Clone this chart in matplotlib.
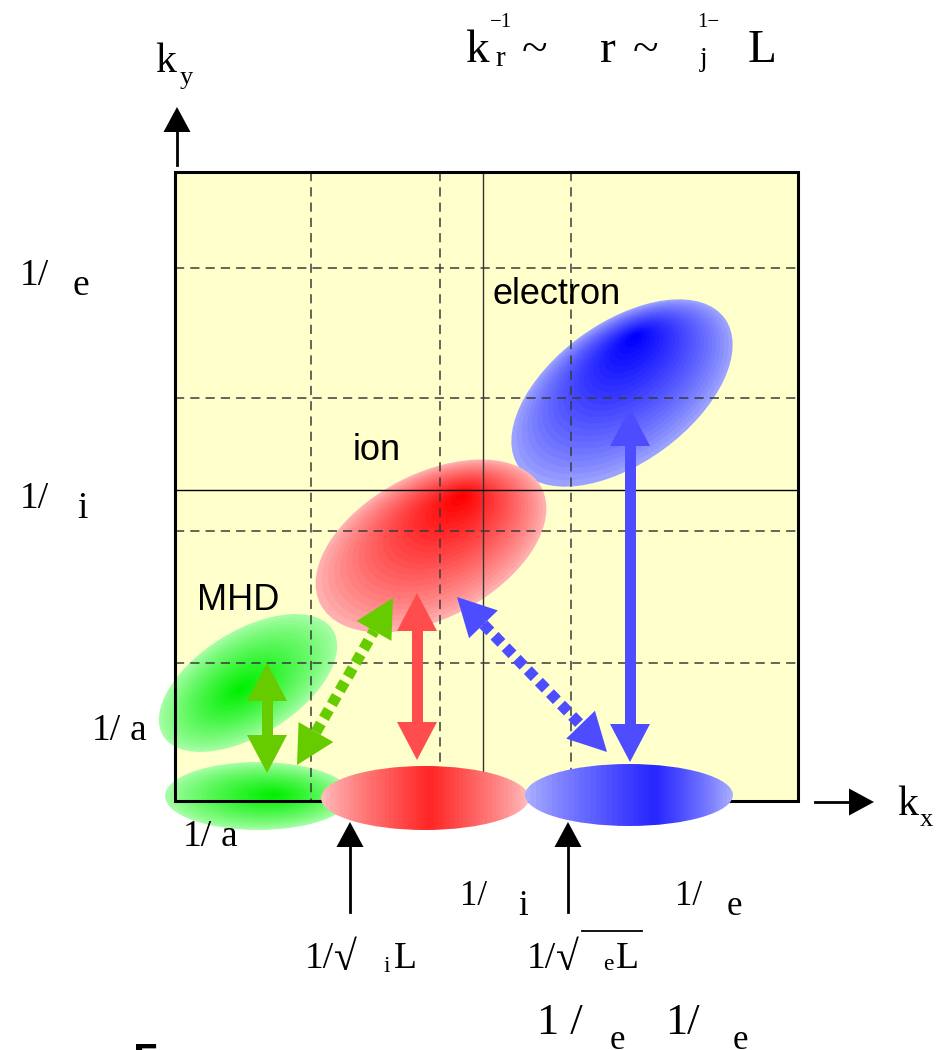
import numpy as np
import matplotlib
matplotlib.use("Agg")
import matplotlib.pyplot as plt
from matplotlib.patches import Ellipse, Rectangle, Polygon

# ---- diagram geometry (figure pixel units, y grows downward) ----
box = (175, 172, 798, 801)                 # left, top, right, bottom
grid_dashed_x = [311, 440, 571]
grid_solid_x = [483]
grid_dashed_y = [268, 398, 531, 663]
grid_solid_y = [490]

# blobs: name, centre, semi-axes, tilt (deg, visual), highlight, full colour, edge colour, mode, zorder
blob_names = ["electron", "ion", "MHD", "mhd_low", "ion_low", "el_low"]
blob_cx = [622, 431, 248, 258, 425, 629]
blob_cy = [393, 546, 683, 796, 798, 795]
blob_a = [127, 125, 100, 93, 104, 104]
blob_b = [70, 72, 52, 34, 32, 31]
blob_tilt = [36, 28, 32, 0, 0, 0]
blob_fx = [635, 462, 240, 275, 430, 655]
blob_fy = [335, 495, 690, 795, 798, 795]
blob_full = [(0, 0, 255), (255, 0, 0), (0, 240, 0), (0, 240, 0), (255, 40, 40), (40, 40, 255)]
blob_light = [(168, 175, 255), (255, 190, 190), (178, 255, 178), (178, 255, 178), (255, 200, 200), (180, 185, 255)]
blob_mode = ["radial", "radial", "radial", "radial", "xonly", "xonly"]
blob_z = [1, 1, 1, 1, 2.7, 2.7]

# coloured double arrows: start tip, end tip, colour, dotted
arr_start = [(267, 663), (297, 765), (417, 593), (457, 597), (630, 408)]
arr_end = [(267, 773), (393, 598), (417, 760), (607, 752), (630, 762)]
arr_color = ["#66CC00", "#66CC00", "#FF4D4D", "#4D4DFF", "#4D4DFF"]
arr_dotted = [False, True, False, True, False]

# black single arrows: tail, tip
blk_tail = [(177, 165), (815, 802), (350, 912), (568, 912)]
blk_tip = [(177, 107), (874, 802), (350, 822), (568, 822)]

SERIF = ["Liberation Serif", "DejaVu Serif"]
SANS = ["Liberation Sans", "DejaVu Sans"]


def blob(ax, cx, cy, a, b, tilt, fx, fy, full, light, mode, z):
    patch = Ellipse((cx, cy), 2 * a, 2 * b, angle=-tilt, fc="none", ec="none")
    ax.add_patch(patch)
    x0, x1, y0, y1 = cx - a - 2, cx + a + 2, cy - a - 2, cy + a + 2
    X, Y = np.meshgrid(np.linspace(x0, x1, 400), np.linspace(y0, y1, 400))
    th = np.radians(-tilt)
    c, s = np.cos(th), np.sin(th)
    dx, dy = X - cx, Y - cy
    u = (dx * c + dy * s) / a
    v = (-dx * s + dy * c) / b
    fu = ((fx - cx) * c + (fy - cy) * s) / a
    fv = (-(fx - cx) * s + (fy - cy) * c) / b
    if mode == "radial":
        du, dv = u - fu, v - fv
        dd = du ** 2 + dv ** 2 + 1e-12
        fd = fu * du + fv * dv
        ff = fu ** 2 + fv ** 2
        lam = (-fd + np.sqrt(np.maximum(fd ** 2 - dd * (ff - 1), 0))) / dd
        t = 1.0 / lam
    else:
        t = np.where(u > fu, (u - fu) / (1 - fu), (fu - u) / (1 + fu))
    t = np.clip(t, 0, 1)
    t = np.floor(t * 24) / 24
    m = (1 - t) ** 0.8
    full = np.array(full) / 255.0
    light = np.array(light) / 255.0
    rgb = light + (full - light) * m[..., None]
    im = ax.imshow(rgb, extent=(x0, x1, y1, y0), origin="upper",
                   interpolation="bilinear", aspect="auto", zorder=z)
    im.set_clip_path(patch)


def head(p_tip, u, n, hw, hl):
    base = p_tip - u * hl
    return [p_tip, base + n * hw / 2, base - n * hw / 2]


def fat_arrow(ax, p0, p1, color, dotted, sw=11, hw=40, hl=38):
    p0, p1 = np.array(p0, float), np.array(p1, float)
    u = (p1 - p0) / np.linalg.norm(p1 - p0)
    n = np.array([-u[1], u[0]])
    b0, b1 = p0 + u * hl, p1 - u * hl
    ax.add_patch(Polygon(head(p0, -u, n, hw, hl), closed=True, fc=color, ec="none", zorder=4))
    ax.add_patch(Polygon(head(p1, u, n, hw, hl), closed=True, fc=color, ec="none", zorder=4))
    if dotted:
        ax.plot([b0[0], b1[0]], [b0[1], b1[1]], color=color, lw=sw * 0.72,
                linestyle=(0, (0.9, 0.55)), solid_capstyle="butt",
                dash_capstyle="butt", zorder=4)
    else:
        ax.add_patch(Polygon([b0 + n * sw / 2, b1 + n * sw / 2, b1 - n * sw / 2, b0 - n * sw / 2],
                             closed=True, fc=color, ec="none", zorder=4))


def thin_arrow(ax, tail, tip, hw=27, hl=25):
    tail, tip = np.array(tail, float), np.array(tip, float)
    u = (tip - tail) / np.linalg.norm(tip - tail)
    n = np.array([-u[1], u[0]])
    b = tip - u * hl
    ax.plot([tail[0], b[0]], [tail[1], b[1]], color="black", lw=2, zorder=4,
            clip_on=False)
    ax.add_patch(Polygon(head(tip, u, n, hw, hl), closed=True, fc="black", ec="none", zorder=4))


def txt(ax, x, y, s, size, family=SERIF, **kw):
    ax.text(x, y, s, fontsize=size, family=family, ha="left", va="baseline", **kw)


fig = plt.figure(figsize=(9.42, 10.5), dpi=100)
ax = fig.add_axes([0, 0, 1, 1])
ax.axis("off")

L, T, R, B = box
ax.add_patch(Rectangle((L, T), R - L, B - T, fc="#FFFFCC", ec="none", zorder=0))

for i in range(len(blob_names)):
    blob(ax, blob_cx[i], blob_cy[i], blob_a[i], blob_b[i], blob_tilt[i],
         blob_fx[i], blob_fy[i], blob_full[i], blob_light[i], blob_mode[i], blob_z[i])

for x in grid_dashed_x:
    ax.plot([x, x], [T, B], color="#3a3a3a", lw=1.1, ls=(0, (6, 4)), zorder=2)
for x in grid_solid_x:
    ax.plot([x, x], [T, B], color="#333333", lw=1.0, zorder=2)
for y in grid_dashed_y:
    ax.plot([L, R], [y, y], color="#3a3a3a", lw=1.1, ls=(0, (6, 4)), zorder=2)
for y in grid_solid_y:
    ax.plot([L, R], [y, y], color="black", lw=1.0, zorder=2)

ax.add_patch(Rectangle((L, T), R - L, B - T, fc="none", ec="black", lw=2.2, zorder=2.5))

for p0, p1, c, d in zip(arr_start, arr_end, arr_color, arr_dotted):
    fat_arrow(ax, p0, p1, c, d)
for tl, tp in zip(blk_tail, blk_tip):
    thin_arrow(ax, tl, tp)

# axis names
txt(ax, 155, 72, "k", 30)
txt(ax, 180, 84, "y", 19)
txt(ax, 897, 815, "k", 30)
txt(ax, 920, 826, "x", 19)

# top relation
txt(ax, 465, 62, "k", 34)
txt(ax, 495, 66, "r", 21)
txt(ax, 490, 27, "\u22121", 15)
txt(ax, 522, 62, "~", 34)
txt(ax, 600, 62, "r", 34)
txt(ax, 633, 62, "~", 34)
txt(ax, 697, 27, "1\u2212", 15)
txt(ax, 700, 66, "j", 20)
txt(ax, 748, 62, "L", 34)

# left scale labels
txt(ax, 20, 285, "1/", 27)
txt(ax, 73, 295, "e", 27)
txt(ax, 20, 508, "1/", 27)
txt(ax, 77, 518, "i", 27)
txt(ax, 92, 740, "1/", 27)
txt(ax, 130, 740, "a", 27)
txt(ax, 183, 846, "1/", 27)
txt(ax, 221, 846, "a", 27)

# bottom scale labels
txt(ax, 460, 905, "1/", 25)
txt(ax, 518, 915, "i", 25)
txt(ax, 675, 905, "1/", 25)
txt(ax, 727, 915, "e", 25)
txt(ax, 305, 968, "1/", 27)
txt(ax, 334, 970, "\u221a", 30)
txt(ax, 383, 972, "i", 17)
txt(ax, 394, 968, "L", 27)
txt(ax, 527, 968, "1/", 27)
txt(ax, 556, 970, "\u221a", 30)
txt(ax, 603, 970, "e", 17)
txt(ax, 616, 968, "L", 27)
ax.plot([582, 642], [931, 931], color="black", lw=1.3)
txt(ax, 537, 1034, "1 /", 32)
txt(ax, 610, 1049, "e", 25)
txt(ax, 665, 1034, "1/", 32)
txt(ax, 733, 1049, "e", 25)

# regime names
txt(ax, 197, 610, "MHD", 26, family=SANS)
txt(ax, 353, 460, "ion", 26, family=SANS)
txt(ax, 493, 304, "electron", 26, family=SANS)

ax.text(133, 1042, "5", fontsize=34, family=SANS, fontweight="bold", ha="left", va="top")

ax.set_xlim(0, 942)
ax.set_ylim(1050, 0)
fig.savefig("out.png", dpi=100)
